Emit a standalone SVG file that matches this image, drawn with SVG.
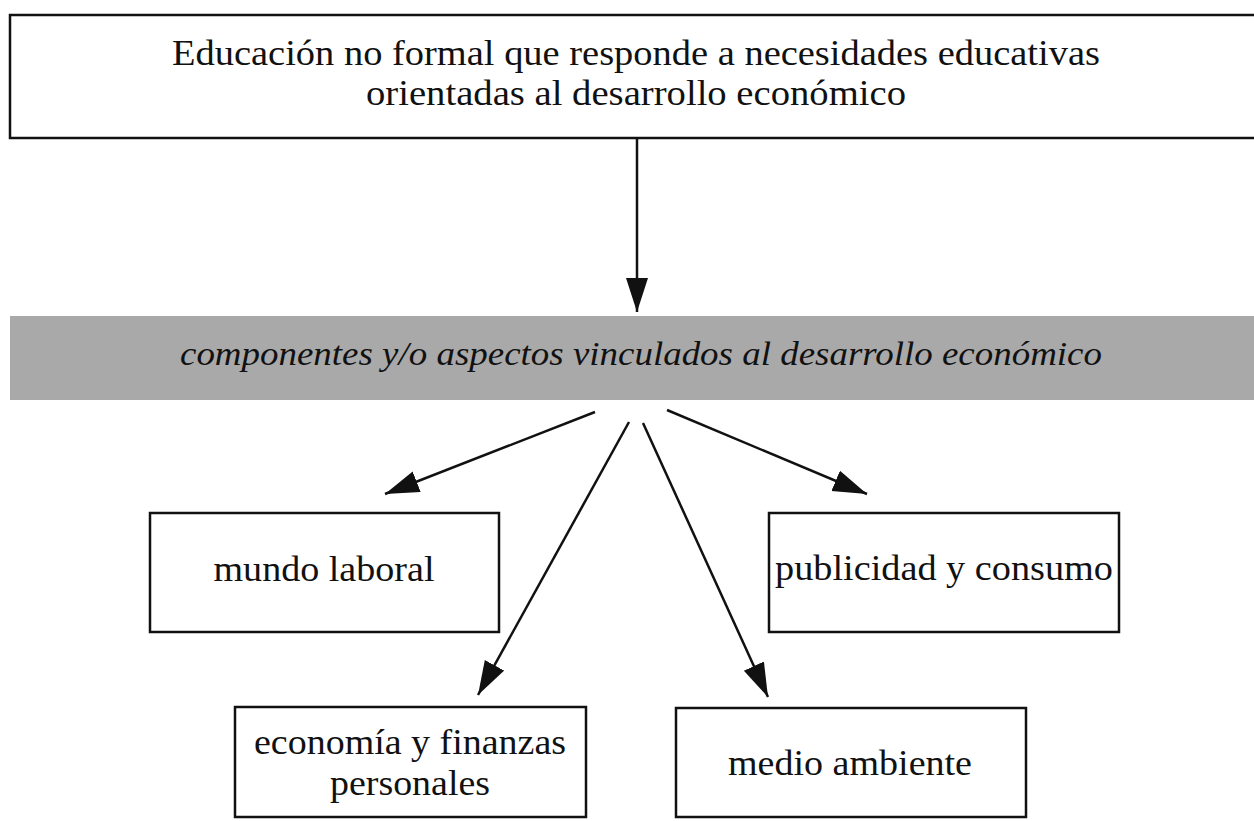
<svg xmlns="http://www.w3.org/2000/svg" width="1254" height="821" viewBox="0 0 1254 821">
  <style>
    .box { fill: #ffffff; stroke: #111111; stroke-width: 2.5; }
    .t { font-family: "Liberation Serif", "Times New Roman", Times, serif; font-size: 36px; fill: #111111; text-anchor: middle; }
    .ti { font-family: "Liberation Serif", "Times New Roman", Times, serif; font-size: 33px; font-style: italic; fill: #111111; text-anchor: middle; }
    .conn { stroke: #111111; stroke-width: 2.5; fill: none; marker-end: url(#arrow); }
  </style>
  <defs>
    <marker id="arrow" markerUnits="userSpaceOnUse" markerWidth="36" markerHeight="24" refX="34" refY="11" orient="auto">
      <polygon points="0,0 34,11 0,22" fill="#111111"/>
    </marker>
  </defs>
  <rect width="1254" height="821" fill="#ffffff"/>

  <g id="node-top">
    <rect class="box" x="10" y="15" width="1260" height="123"/>
    <text class="t" x="636" y="65" textLength="928" lengthAdjust="spacingAndGlyphs">Educación no formal que responde a necesidades educativas</text>
    <text class="t" x="636" y="105" textLength="540" lengthAdjust="spacingAndGlyphs">orientadas al desarrollo económico</text>
  </g>

  <g id="node-band">
    <rect x="10" y="316" width="1250" height="84" fill="#a9a9a9"/>
    <text class="ti" x="641" y="365" textLength="922" lengthAdjust="spacingAndGlyphs">componentes y/o aspectos vinculados al desarrollo económico</text>
  </g>

  <g id="node-mundo">
    <rect class="box" x="150" y="513" width="349" height="119"/>
    <text class="t" x="324" y="581" textLength="221" lengthAdjust="spacingAndGlyphs">mundo laboral</text>
  </g>

  <g id="node-publicidad">
    <rect class="box" x="769" y="513" width="350" height="119"/>
    <text class="t" x="944" y="580" textLength="338" lengthAdjust="spacingAndGlyphs">publicidad y consumo</text>
  </g>

  <g id="node-economia">
    <rect class="box" x="235" y="707" width="351" height="110"/>
    <text class="t" x="410" y="754" textLength="312" lengthAdjust="spacingAndGlyphs">economía y finanzas</text>
    <text class="t" x="410" y="795" textLength="160" lengthAdjust="spacingAndGlyphs">personales</text>
  </g>

  <g id="node-medio">
    <rect class="box" x="676" y="708" width="350" height="109"/>
    <text class="t" x="850" y="775" textLength="244" lengthAdjust="spacingAndGlyphs">medio ambiente</text>
  </g>

  <g id="connectors">
    <line class="conn" x1="637" y1="138" x2="637" y2="312"/>
    <line class="conn" x1="595" y1="412" x2="385" y2="494"/>
    <line class="conn" x1="629" y1="422" x2="478" y2="695"/>
    <line class="conn" x1="643" y1="423" x2="768" y2="697"/>
    <line class="conn" x1="667" y1="410" x2="867" y2="494"/>
  </g>
</svg>
